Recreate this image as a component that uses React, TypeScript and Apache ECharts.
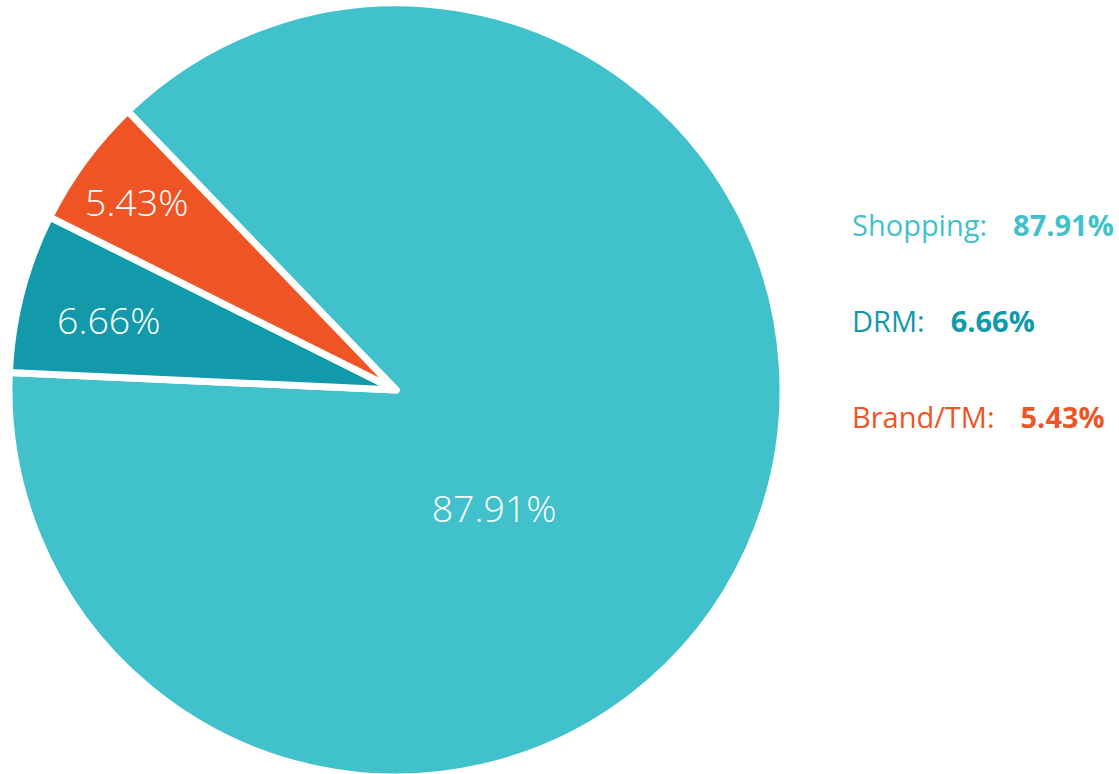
import React, { useEffect, useRef } from "react";
import * as echarts from "echarts";

const categories = ["Shopping", "DRM", "Brand/TM"];
const values = [87.91, 6.66, 5.43];
const colors = ["#41C1CB", "#1299AA", "#EF5425"];

// label offsets (layout only)
const labelDx = [-81, -97, -101];
const labelDy = [37, -21, -72];

export default function App() {
  const ref = useRef<HTMLDivElement>(null);
  useEffect(() => {
    if (!ref.current) return;
    const chart = echarts.init(ref.current, null, { renderer: "svg" });
    const rich: any = {};
    categories.forEach((c, i) => {
      rich["n" + i] = {
        fontFamily: "Open Sans",
        fontSize: 29,
        fontWeight: 400,
        color: colors[i],
        lineHeight: 40,
      };
      rich["v" + i] = {
        fontFamily: "Open Sans",
        fontSize: 29,
        fontWeight: 700,
        color: colors[i],
        lineHeight: 40,
        padding: [0, 0, 0, 26],
      };
    });
    const option: any = {
      animation: false,
      legend: {
        orient: "vertical",
        left: 842,
        top: 205,
        icon: "none",
        itemWidth: 0,
        itemHeight: 0,
        itemGap: 67,
        selectedMode: false,
        data: categories,
        formatter: (name: string) => {
          const i = categories.indexOf(name);
          return `{n${i}|${name}:}{v${i}|${values[i].toFixed(2)}%}`;
        },
        textStyle: { rich },
      },
      series: [
        {
          type: "pie",
          center: [396, 390],
          radius: 387,
          startAngle: 133.9,
          clockwise: true,
          avoidLabelOverlap: false,
          itemStyle: { borderColor: "#ffffff", borderWidth: 7 },
          label: {
            show: true,
            position: "inside",
            formatter: (p: any) => `${values[p.dataIndex].toFixed(2)}%`,
            color: "#ffffff",
            fontFamily: "Open Sans",
            fontSize: 37.5,
            fontWeight: 300,
          },
          labelLayout: (p: any) => ({ dx: labelDx[p.dataIndex], dy: labelDy[p.dataIndex] }),
          labelLine: { show: false },
          emphasis: { disabled: true },
          data: categories.map((c, i) => ({
            name: c,
            value: values[i],
            itemStyle: { color: colors[i] },
          })),
        },
      ],
    };
    chart.setOption(option);
    return () => chart.dispose();
  }, []);
  return (
    <div
      ref={ref}
      style={{ position: "fixed", left: 0, top: 0, width: 1119, height: 774, background: "#ffffff" }}
    />
  );
}
